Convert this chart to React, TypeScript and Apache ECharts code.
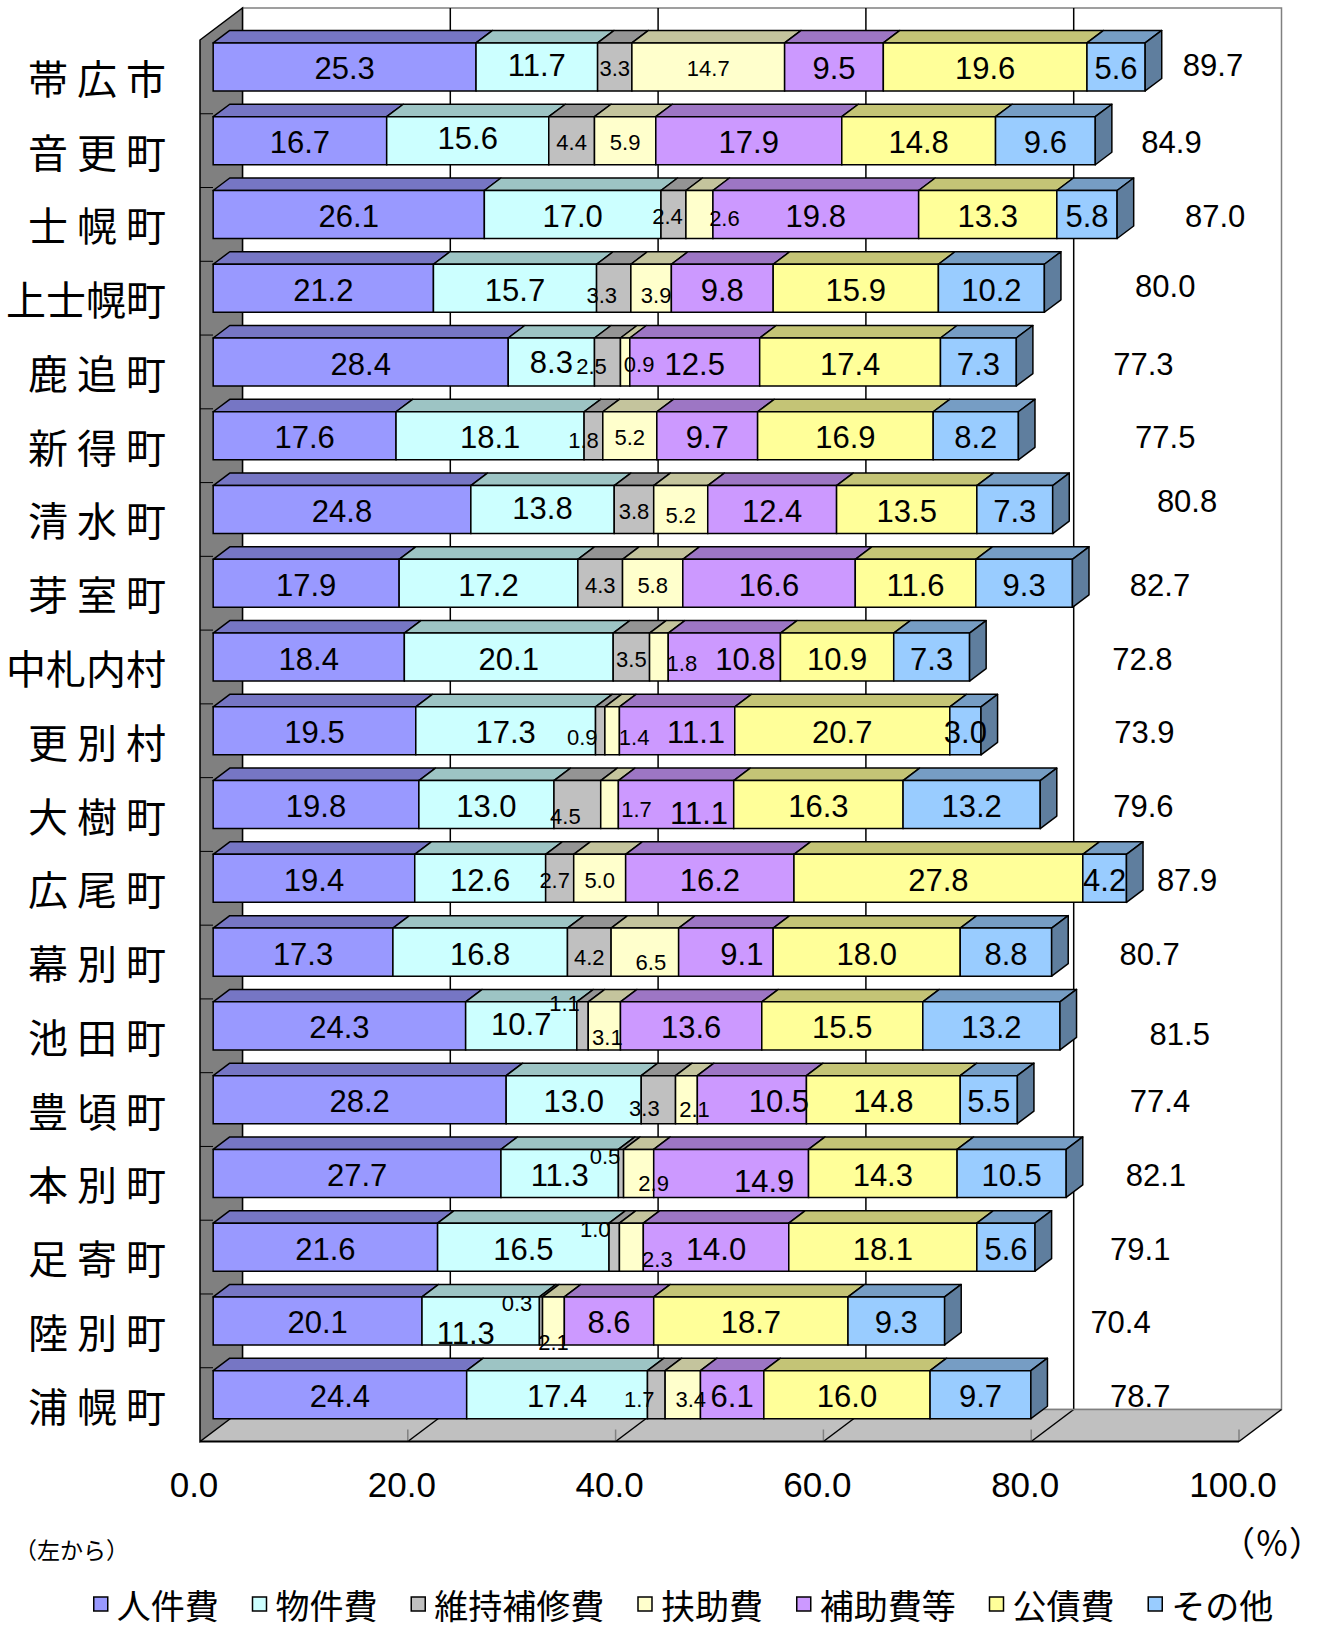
import React, { useEffect, useRef } from 'react';
import * as echarts from 'echarts';

const CATEGORIES = ['帯広市', '音更町', '士幌町', '上士幌町', '鹿追町', '新得町', '清水町', '芽室町', '中札内村', '更別村', '大樹町', '広尾町', '幕別町', '池田町', '豊頃町', '本別町', '足寄町', '陸別町', '浦幌町'];
const SERIES_NAMES = ['人件費', '物件費', '維持補修費', '扶助費', '補助費等', '公債費', 'その他'];
const PERSONNEL = [25.3, 16.7, 26.1, 21.2, 28.4, 17.6, 24.8, 17.9, 18.4, 19.5, 19.8, 19.4, 17.3, 24.3, 28.2, 27.7, 21.6, 20.1, 24.4];
const MATERIALS = [11.7, 15.6, 17.0, 15.7, 8.3, 18.1, 13.8, 17.2, 20.1, 17.3, 13.0, 12.6, 16.8, 10.7, 13.0, 11.3, 16.5, 11.3, 17.4];
const MAINTENANCE = [3.3, 4.4, 2.4, 3.3, 2.5, 1.8, 3.8, 4.3, 3.5, 0.9, 4.5, 2.7, 4.2, 1.1, 3.3, 0.5, 1.0, 0.3, 1.7];
const ASSISTANCE = [14.7, 5.9, 2.6, 3.9, 0.9, 5.2, 5.2, 5.8, 1.8, 1.4, 1.7, 5.0, 6.5, 3.1, 2.1, 2.9, 2.3, 2.1, 3.4];
const SUBSIDIES = [9.5, 17.9, 19.8, 9.8, 12.5, 9.7, 12.4, 16.6, 10.8, 11.1, 11.1, 16.2, 9.1, 13.6, 10.5, 14.9, 14.0, 8.6, 6.1];
const DEBT = [19.6, 14.8, 13.3, 15.9, 17.4, 16.9, 13.5, 11.6, 10.9, 20.7, 16.3, 27.8, 18.0, 15.5, 14.8, 14.3, 18.1, 18.7, 16.0];
const OTHER = [5.6, 9.6, 5.8, 10.2, 7.3, 8.2, 7.3, 9.3, 7.3, 3.0, 13.2, 4.2, 8.8, 13.2, 5.5, 10.5, 5.6, 9.3, 9.7];
const TOTALS = [89.7, 84.9, 87.0, 80.0, 77.3, 77.5, 80.8, 82.7, 72.8, 73.9, 79.6, 87.9, 80.7, 81.5, 77.4, 82.1, 79.1, 70.4, 78.7];
// where each total's text is anchored along the value axis (axis units)
const TOTAL_LABEL_AT = [97.5, 93.5, 97.7, 92.9, 90.8, 92.9, 95.0, 92.4, 90.7, 90.9, 90.8, 95.0, 91.4, 94.3, 92.4, 92.0, 90.5, 88.6, 90.5];
const X_TICKS = [0, 20, 40, 60, 80, 100];

const SERIES_VALUES = [PERSONNEL, MATERIALS, MAINTENANCE, ASSISTANCE, SUBSIDIES, DEBT, OTHER];

// ---- styling ----
const FRONT = ['#9999FF', '#CCFFFF', '#C0C0C0', '#FFFFCC', '#CC99FF', '#FFFF99', '#99CCFF'];
const shade = (hex: string, f: number) => {
  const n = parseInt(hex.slice(1), 16);
  const r = Math.round(((n >> 16) & 255) * f);
  const g = Math.round(((n >> 8) & 255) * f);
  const b = Math.round((n & 255) * f);
  return `rgb(${r},${g},${b})`;
};
const TOP = FRONT.map((c) => shade(c, 0.77));
const SIDE = FRONT.map((c) => shade(c, 0.62));
const SMALL_LABEL_SERIES = [2, 3];
const NUM_FONT = '"Liberation Sans", Arial, sans-serif';
const JP_FONT = '"Noto Sans CJK JP", sans-serif';

const DX = 42.5; // full depth offset (px)
const DY = 32;
const D0 = 0.31; // bar front depth fraction
const D1 = 0.7; // bar back depth fraction
const BAR_FRAC = 0.651;
const LABEL_DY = 2;

// label nudges in px: key `${row},${series}`
const LABEL_NUDGE: Record<string, [number, number]> = {
  '0,1': [0, -3],
  '1,1': [0, -4],
  '2,2': [-6, 0], '2,3': [25, 2],
  '3,2': [-12, 5], '3,3': [5, 5],
  '4,1': [0, -2], '4,2': [-16, 2], '4,3': [14, 0],
  '5,2': [-10, 3],
  '6,1': [0, -3], '6,3': [0, 4],
  '8,3': [23, 4], '8,4': [21, 0],
  '9,2': [-18, 5], '9,3': [22, 5], '9,4': [19, 0],
  '10,2': [-12, 10], '10,3': [27, 3], '10,4': [23, 7],
  '11,2': [-5, 0],
  '12,2': [0, 3], '12,3': [6, 8], '12,4': [16, 0],
  '13,1': [0, -3], '13,2': [-18, -24], '13,3': [3, 10],
  '14,2': [-14, 7], '14,3': [8, 8], '14,4': [27, 0],
  '15,2': [-16, -19], '15,3': [15, 8], '15,4': [33, 6],
  '16,2': [-19, -20], '16,3': [26, 10],
  '17,1': [-15, 11], '17,2': [-24, -19], '17,3': [0, 20],
  '18,2': [-17, 3], '18,3': [8, 3],
};
const TOTAL_NUDGE_Y: Record<number, number> = { 0: -3, 3: -4, 6: -10, 13: 7 };

const cumStart = (s: number, r: number) => {
  let acc = 0;
  for (let i = 0; i < s; i++) acc += SERIES_VALUES[i][r];
  return acc;
};

function buildOption(): any {
  const lastSeries = SERIES_VALUES.length - 1;

  const wallSeries = {
    type: 'custom',
    name: '__walls',
    coordinateSystem: 'cartesian2d',
    silent: true,
    z: 1,
    encode: { x: 0, y: 1 },
    data: [[0, 0]],
    renderItem: (params: any, api: any) => {
      const cs = params.coordSys;
      const L = cs.x, T = cs.y, R = cs.x + cs.width, B = cs.y + cs.height;
      const xAt = (v: number) => api.coord([v, 0])[0];
      const band = api.size([0, 1])[1];
      const children: any[] = [];
      // back wall
      children.push({ type: 'rect', shape: { x: L + DX, y: T - DY, width: R - L, height: B - T }, style: { fill: '#FFFFFF', stroke: '#808080', lineWidth: 1.5 } });
      // back gridlines
      X_TICKS.filter((v) => v > 0 && v < 100).forEach((v) => {
        const x = xAt(v) + DX;
        children.push({ type: 'line', shape: { x1: x, y1: T - DY, x2: x, y2: B - DY }, style: { stroke: '#000', lineWidth: 1.5 } });
      });
      // floor
      children.push({ type: 'polygon', shape: { points: [[L, B], [R, B], [R + DX, B - DY], [L + DX, B - DY]] }, style: { fill: '#C0C0C0', stroke: 'none' } });
      X_TICKS.filter((v) => v > 0 && v < 100).forEach((v) => {
        const x = xAt(v);
        children.push({ type: 'line', shape: { x1: x, y1: B, x2: x + DX, y2: B - DY }, style: { stroke: '#000', lineWidth: 1.5 } });
      });
      X_TICKS.filter((v) => v > 0).forEach((v) => {
        const x = xAt(v);
        children.push({ type: 'line', shape: { x1: x, y1: B - 12, x2: x, y2: B }, style: { stroke: '#808080', lineWidth: 1.5 } });
      });
      children.push({ type: 'line', shape: { x1: L + DX, y1: B - DY, x2: R + DX, y2: B - DY }, style: { stroke: '#808080', lineWidth: 1.5 } });
      children.push({ type: 'line', shape: { x1: R, y1: B, x2: R + DX, y2: B - DY }, style: { stroke: '#000', lineWidth: 1.5 } });
      children.push({ type: 'line', shape: { x1: L, y1: B, x2: R, y2: B }, style: { stroke: '#000', lineWidth: 2 } });
      // left wall
      children.push({ type: 'polygon', shape: { points: [[L, T], [L + DX, T - DY], [L + DX, B - DY], [L, B]] }, style: { fill: '#808080', stroke: '#000', lineWidth: 1.5 } });
      for (let k = 1; k < CATEGORIES.length; k++) {
        const y = T + k * band;
        children.push({ type: 'line', shape: { x1: L, y1: y, x2: L + 13, y2: y }, style: { stroke: '#000', lineWidth: 1 } });
      }
      return { type: 'group', children };
    },
  };

  const barSeries = SERIES_VALUES.map((vals, s) => ({
    type: 'custom',
    name: SERIES_NAMES[s],
    coordinateSystem: 'cartesian2d',
    silent: true,
    z: 2,
    itemStyle: { color: FRONT[s] },
    encode: { x: [0, 1], y: 2 },
    data: vals.map((v, r) => {
      const st = cumStart(s, r);
      return [st, st + v, r, v];
    }),
    renderItem: (params: any, api: any) => {
      const row = api.value(2);
      const p0 = api.coord([api.value(0), row]);
      const p1 = api.coord([api.value(1), row]);
      const band = api.size([0, 1])[1];
      const h = band * BAR_FRAC;
      const x0 = p0[0] + D0 * DX;
      const x1 = p1[0] + D0 * DX;
      const yc = p0[1] - D0 * DY;
      const yt = yc - h / 2;
      const yb = yc + h / 2;
      const ddx = (D1 - D0) * DX;
      const ddy = (D1 - D0) * DY;
      const children: any[] = [
        { type: 'polygon', shape: { points: [[x0, yt], [x1, yt], [x1 + ddx, yt - ddy], [x0 + ddx, yt - ddy]] }, style: { fill: TOP[s], stroke: '#000', lineWidth: 1.5, lineJoin: 'round' } },
        { type: 'rect', shape: { x: x0, y: yt, width: x1 - x0, height: h }, style: { fill: FRONT[s], stroke: '#000', lineWidth: 1.5 } },
      ];
      if (s === lastSeries) {
        children.push({ type: 'polygon', shape: { points: [[x1, yt], [x1 + ddx, yt - ddy], [x1 + ddx, yb - ddy], [x1, yb]] }, style: { fill: SIDE[s], stroke: '#000', lineWidth: 1.5, lineJoin: 'round' } });
      }
      return { type: 'group', children };
    },
  }));

  const labelData: any[] = [];
  SERIES_VALUES.forEach((vals, s) => {
    vals.forEach((v, r) => {
      const st = cumStart(s, r);
      labelData.push([st, st + v, r, s, v]);
    });
  });

  const labelSeries = {
    type: 'custom',
    name: '__labels',
    coordinateSystem: 'cartesian2d',
    silent: true,
    z: 5,
    encode: { x: [0, 1], y: 2 },
    data: labelData,
    renderItem: (params: any, api: any) => {
      const row = api.value(2);
      const s = api.value(3);
      const v = api.value(4);
      const p0 = api.coord([api.value(0), row]);
      const p1 = api.coord([api.value(1), row]);
      const nudge = LABEL_NUDGE[`${row},${s}`] || [0, 0];
      const x = (p0[0] + p1[0]) / 2 + D0 * DX + nudge[0];
      const y = p0[1] - D0 * DY + nudge[1] + LABEL_DY;
      const small = SMALL_LABEL_SERIES.indexOf(s) >= 0;
      return {
        type: 'text',
        x,
        y,
        style: {
          text: v.toFixed(1),
          fontSize: small ? 22 : 31,
          fontFamily: NUM_FONT,
          fill: '#000',
          align: 'center',
          verticalAlign: 'middle',
          textAlign: 'center',
          textVerticalAlign: 'middle',
        },
      };
    },
  };

  const totalSeries = {
    type: 'custom',
    name: '__totals',
    coordinateSystem: 'cartesian2d',
    silent: true,
    z: 5,
    encode: { x: 0, y: 1 },
    data: TOTALS.map((t, r) => [TOTAL_LABEL_AT[r], r, t]),
    renderItem: (params: any, api: any) => {
      const row = api.value(1);
      const p = api.coord([api.value(0), row]);
      const y = p[1] - D0 * DY + (TOTAL_NUDGE_Y[row] || 0) + LABEL_DY;
      return {
        type: 'text',
        x: p[0],
        y,
        style: {
          text: api.value(2).toFixed(1),
          fontSize: 31,
          fontFamily: NUM_FONT,
          fill: '#000',
          align: 'center',
          verticalAlign: 'middle',
          textAlign: 'center',
          textVerticalAlign: 'middle',
        },
      };
    },
  };

  return {
    animation: false,
    backgroundColor: '#FFFFFF',
    grid: { left: 200, top: 40, width: 1039, height: 1401.5, containLabel: false },
    xAxis: {
      type: 'value',
      min: 0,
      max: 100,
      interval: 20,
      axisLine: { show: false },
      axisTick: { show: false },
      splitLine: { show: false },
      axisLabel: {
        formatter: (v: number) => v.toFixed(1),
        fontSize: 35,
        fontFamily: NUM_FONT,
        color: '#000',
        margin: 25,
        padding: [0, 12, 0, 0],
      },
    },
    yAxis: {
      type: 'category',
      data: CATEGORIES,
      inverse: true,
      axisLine: { show: false },
      axisTick: { show: false },
      splitLine: { show: false },
      axisLabel: {
        formatter: (n: string) => (n.length === 3 ? n.split('').join(' ') : n),
        fontSize: 40,
        fontFamily: JP_FONT,
        color: '#000',
        margin: 34,
      },
    },
    legend: {
      left: 93,
      top: 1587,
      padding: 0,
      itemWidth: 14,
      itemHeight: 14,
      itemGap: 33,
      icon: 'rect',
      selectedMode: false,
      data: SERIES_NAMES.map((n) => ({ name: n, icon: 'rect' })),
      itemStyle: { borderColor: '#000', borderWidth: 1.5 },
      textStyle: { fontSize: 34, fontFamily: JP_FONT, color: '#000', padding: [0, 0, 0, 4] },
    },
    graphic: [
      { type: 'text', left: 14, top: 1537, style: { text: '（左から）', fontSize: 23, fontFamily: JP_FONT, fill: '#000' } },
      { type: 'text', right: 0, top: 1524, style: { text: '（％）', fontSize: 34, fontFamily: JP_FONT, fill: '#000' } },
    ],
    series: [wallSeries, ...barSeries, labelSeries, totalSeries],
  };
}

export default function App() {
  const ref = useRef<HTMLDivElement>(null);
  useEffect(() => {
    if (!ref.current) return;
    const chart = echarts.init(ref.current, null, { renderer: 'svg' });
    chart.setOption(buildOption());
    return () => chart.dispose();
  }, []);
  return (
    <div
      ref={ref}
      style={{ position: 'absolute', left: 0, top: 0, width: 1323, height: 1628, background: '#FFFFFF' }}
    />
  );
}
